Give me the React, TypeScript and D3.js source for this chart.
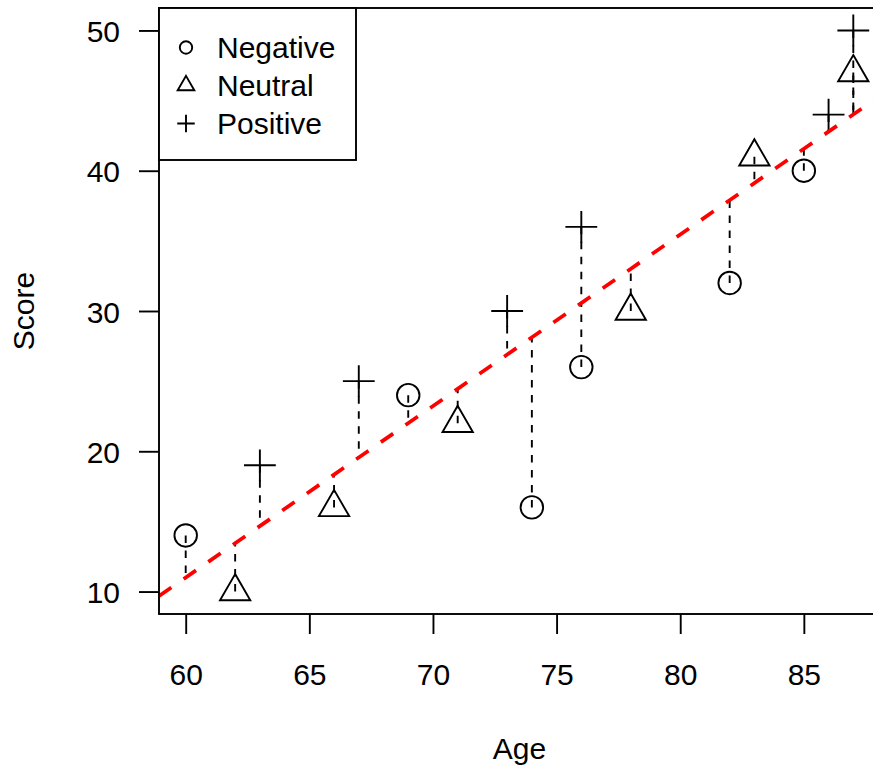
import React, { useRef, useEffect } from "react";
import * as d3 from "d3";

// Score by Age, three sentiment groups
const groups = ["Negative", "Neutral", "Positive"];
const negativeAge = [60, 69, 74, 76, 82, 85];
const negativeScore = [14, 24, 16, 26, 32, 40];
const neutralAge = [62, 66, 71, 78, 83, 87];
const neutralScore = [10, 16, 22, 30, 41, 47];
const positiveAge = [63, 67, 73, 76, 86, 87];
const positiveScore = [19, 25, 30, 36, 44, 50];
const ageTicks = [60, 65, 70, 75, 80, 85];
const scoreTicks = [10, 20, 30, 40, 50];

type Pt = { age: number; score: number; group: string };

const W = 873;
const H = 768;
const FONT = "'Liberation Sans', Arial, Helvetica, sans-serif";

// R style symbols: pch 1 circle, pch 2 triangle, pch 3 plus
function symbolPath(group: string, x: number, y: number, size: number) {
  const r0 = 0.375 * size;
  const p = d3.path();
  if (group === "Negative") {
    p.moveTo(x + r0, y);
    p.arc(x, y, r0, 0, Math.PI * 2);
  } else if (group === "Neutral") {
    const trc0 = Math.sqrt((4 * Math.PI) / (3 * Math.sqrt(3)));
    const r = trc0 * r0;
    const yc = (trc0 / 2) * r0;
    const xc = ((trc0 * Math.sqrt(3)) / 2) * r0;
    p.moveTo(x, y - r);
    p.lineTo(x + xc, y + yc);
    p.lineTo(x - xc, y + yc);
    p.closePath();
  } else {
    const a = Math.SQRT2 * r0;
    p.moveTo(x - a, y);
    p.lineTo(x + a, y);
    p.moveTo(x, y - a);
    p.lineTo(x, y + a);
  }
  return p.toString();
}

const App = () => {
  const ref = useRef<HTMLDivElement>(null);

  useEffect(() => {
    const container = ref.current;
    if (!container) return;
    d3.select(container).selectAll("*").remove();

    const points: Pt[] = [
      ...negativeAge.map((a, i) => ({ age: a, score: negativeScore[i], group: "Negative" })),
      ...neutralAge.map((a, i) => ({ age: a, score: neutralScore[i], group: "Neutral" })),
      ...positiveAge.map((a, i) => ({ age: a, score: positiveScore[i], group: "Positive" })),
    ];

    // plot region (right side runs past the canvas, as in the reference)
    const left = 159;
    const right = 880;
    const top = 8;
    const bottom = 614;

    const [xMin, xMax] = d3.extent(points, (d) => d.age) as [number, number];
    const [yMin, yMax] = d3.extent(points, (d) => d.score) as [number, number];
    const xPad = (xMax - xMin) * 0.04;
    const yPad = (yMax - yMin) * 0.04;

    const x = d3.scaleLinear().domain([xMin - xPad, xMax + xPad]).range([left, right]);
    const y = d3.scaleLinear().domain([yMin - yPad, yMax + yPad]).range([bottom, top]);

    // least squares fit
    const mx = d3.mean(points, (d) => d.age) as number;
    const my = d3.mean(points, (d) => d.score) as number;
    const sxy = d3.sum(points, (d) => (d.age - mx) * (d.score - my));
    const sxx = d3.sum(points, (d) => (d.age - mx) ** 2);
    const slope = sxy / sxx;
    const intercept = my - slope * mx;
    const fit = (a: number) => intercept + slope * a;

    const svg = d3
      .select(container)
      .append("svg")
      .attr("width", W)
      .attr("height", H)
      .style("display", "block")
      .style("background", "#fff");

    svg
      .append("defs")
      .append("clipPath")
      .attr("id", "plot-clip")
      .append("rect")
      .attr("x", left)
      .attr("y", top)
      .attr("width", right - left)
      .attr("height", bottom - top);

    const plot = svg.append("g").attr("clip-path", "url(#plot-clip)");

    // residual segments
    plot
      .selectAll(".resid")
      .data(points)
      .enter()
      .append("line")
      .attr("x1", (d) => x(d.age))
      .attr("x2", (d) => x(d.age))
      .attr("y1", (d) => y(d.score))
      .attr("y2", (d) => y(fit(d.age)))
      .attr("stroke", "#000")
      .attr("stroke-width", 1.9)
      .attr("stroke-dasharray", "7.5,7.5");

    // points
    plot
      .selectAll(".pt")
      .data(points)
      .enter()
      .append("path")
      .attr("d", (d) => symbolPath(d.group, x(d.age), y(d.score), 30))
      .attr("fill", "none")
      .attr("stroke", "#000")
      .attr("stroke-width", 1.9);

    // fitted line
    const [d0, d1] = x.domain();
    plot
      .append("line")
      .attr("x1", x(d0))
      .attr("y1", y(fit(d0)))
      .attr("x2", x(d1))
      .attr("y2", y(fit(d1)))
      .attr("stroke", "#ff0000")
      .attr("stroke-width", 3.75)
      .attr("stroke-dasharray", "15,15");

    // box
    svg
      .append("rect")
      .attr("x", left)
      .attr("y", top)
      .attr("width", right - left)
      .attr("height", bottom - top)
      .attr("fill", "none")
      .attr("stroke", "#000")
      .attr("stroke-width", 1.9);

    // x axis
    const xAxis = svg
      .append("g")
      .attr("transform", `translate(0,${bottom})`)
      .call(d3.axisBottom(x).tickValues(ageTicks).tickSize(20).tickPadding(0).tickSizeOuter(0));
    xAxis.select(".domain").remove();
    xAxis.selectAll("line").attr("stroke", "#000").attr("stroke-width", 1.9);
    xAxis
      .selectAll("text")
      .attr("y", 71)
      .attr("dy", null)
      .style("font-family", FONT)
      .style("font-size", "30px")
      .style("fill", "#000");

    // y axis
    const yAxis = svg
      .append("g")
      .attr("transform", `translate(${left},0)`)
      .call(d3.axisLeft(y).tickValues(scoreTicks).tickSize(20).tickPadding(19).tickSizeOuter(0));
    yAxis.select(".domain").remove();
    yAxis.selectAll("line").attr("stroke", "#000").attr("stroke-width", 1.9);
    yAxis
      .selectAll("text")
      .attr("dy", "0.37em")
      .style("font-family", FONT)
      .style("font-size", "30px")
      .style("fill", "#000");

    // axis titles
    svg
      .append("text")
      .attr("x", (left + right) / 2)
      .attr("y", 759)
      .attr("text-anchor", "middle")
      .style("font-family", FONT)
      .style("font-size", "30px")
      .text("Age");

    svg
      .append("text")
      .attr("transform", `translate(34,${(top + bottom) / 2}) rotate(-90)`)
      .attr("text-anchor", "middle")
      .style("font-family", FONT)
      .style("font-size", "30px")
      .text("Score");

    // legend
    const legend = svg.append("g");
    legend
      .append("rect")
      .attr("x", left)
      .attr("y", top)
      .attr("width", 197)
      .attr("height", 152)
      .attr("fill", "#fff")
      .attr("stroke", "#000")
      .attr("stroke-width", 1.9);

    const rows = legend
      .selectAll(".row")
      .data(groups)
      .enter()
      .append("g")
      .attr("transform", (_d, i) => `translate(0,${47.5 + i * 38})`);

    rows
      .append("path")
      .attr("d", (d) => symbolPath(d, 186, 0, 16.5))
      .attr("fill", "none")
      .attr("stroke", "#000")
      .attr("stroke-width", 1.9);

    rows
      .append("text")
      .attr("x", 217)
      .attr("y", 0)
      .attr("dy", "0.36em")
      .style("font-family", FONT)
      .style("font-size", "30px")
      .text((d) => d);
  }, []);

  return <div ref={ref} style={{ position: "absolute", left: 0, top: 0, width: W, height: H, overflow: "hidden" }} />;
};

export default App;
